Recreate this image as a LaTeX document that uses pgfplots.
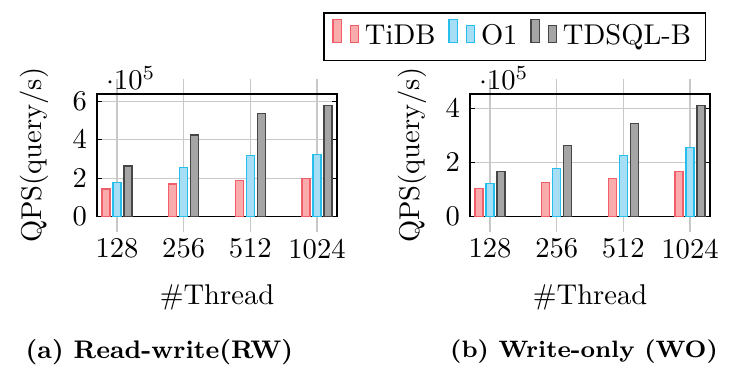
\documentclass[border=0pt]{standalone}
\usepackage{pgfplots}
\pgfplotsset{compat=1.18}
\definecolor{tidbfill}{RGB}{250,172,172}
\definecolor{tidbdraw}{RGB}{240,95,105}
\definecolor{ofill}{RGB}{165,222,245}
\definecolor{odraw}{RGB}{40,190,235}
\definecolor{tfill}{RGB}{165,165,165}
\definecolor{tdraw}{RGB}{70,70,70}
\definecolor{gridc}{RGB}{200,200,200}
\pgfplotsset{
  qps/.style={
    ybar, bar width=2.8pt, ybar=1.05pt,
    scale only axis, width=84pt, height=42.9pt,
    xmin=-0.3, xmax=3.3, ymin=0,
    xtick={0,1,2,3}, xticklabels={128,256,512,1024},
    xmajorgrids, ymajorgrids,
    grid style={gridc, line width=0.4pt},
    xtick align=outside, xtick pos=both,
    x tick style={gridc, line width=0.4pt, /pgfplots/major tick length=5.4pt},
    y tick style={black, /pgfplots/major tick length=1.6pt},
    ytick align=inside,
    xlabel={\#Thread},
    ylabel={QPS(query/s)},
    xlabel style={at={(axis description cs:0.5,-0.656)}, anchor=center},
    axis line style={black, line width=0.5pt},
  },
  tidb/.style={fill=tidbfill, draw=tidbdraw, line width=0.4pt},
  oone/.style={fill=ofill, draw=odraw, line width=0.4pt},
  tdsql/.style={fill=tfill, draw=tdraw, line width=0.4pt},
}
\begin{document}
\begin{tikzpicture}
\useasboundingbox (0,0) rectangle (255.85pt,128.8pt);
\begin{axis}[qps, at={(33.95pt,53pt)}, anchor=south west,
  ymax=637000, ytick={0,200000,400000,600000},
  ylabel style={at={(axis description cs:-0.262,0.5)}, anchor=center},
  legend columns=-1,
  legend style={at={(axis description cs:1.74,1.467)}, anchor=center, draw=black, line width=0.5pt,
    /tikz/every even column/.append style={column sep=2.5pt}},
]
\addplot[tidb] coordinates {(0,143000) (1,169000) (2,186000) (3,197000)};
\addplot[oone] coordinates {(0,179000) (1,257000) (2,318000) (3,323000)};
\addplot[tdsql] coordinates {(0,263000) (1,424000) (2,537000) (3,579000)};
\legend{TiDB, O1, TDSQL-B}
\end{axis}
\begin{axis}[qps, at={(164.5pt,53pt)}, anchor=south west,
  ymax=454000, ytick={0,200000,400000},
  ylabel style={at={(axis description cs:-0.242,0.5)}, anchor=center},
]
\addplot[tidb] coordinates {(0,103000) (1,126000) (2,142000) (3,168000)};
\addplot[oone] coordinates {(0,122000) (1,177000) (2,226000) (3,255000)};
\addplot[tdsql] coordinates {(0,167000) (1,263000) (2,344000) (3,412000)};
\end{axis}
\node[font=\fontsize{8.9}{11}\selectfont\bfseries] at (55.8pt,5.6pt) {(a) Read-write(RW)};
\node[font=\fontsize{8.3}{10}\selectfont\bfseries] at (204.4pt,5.6pt) {(b) Write-only (WO)};
\end{tikzpicture}
\end{document}
